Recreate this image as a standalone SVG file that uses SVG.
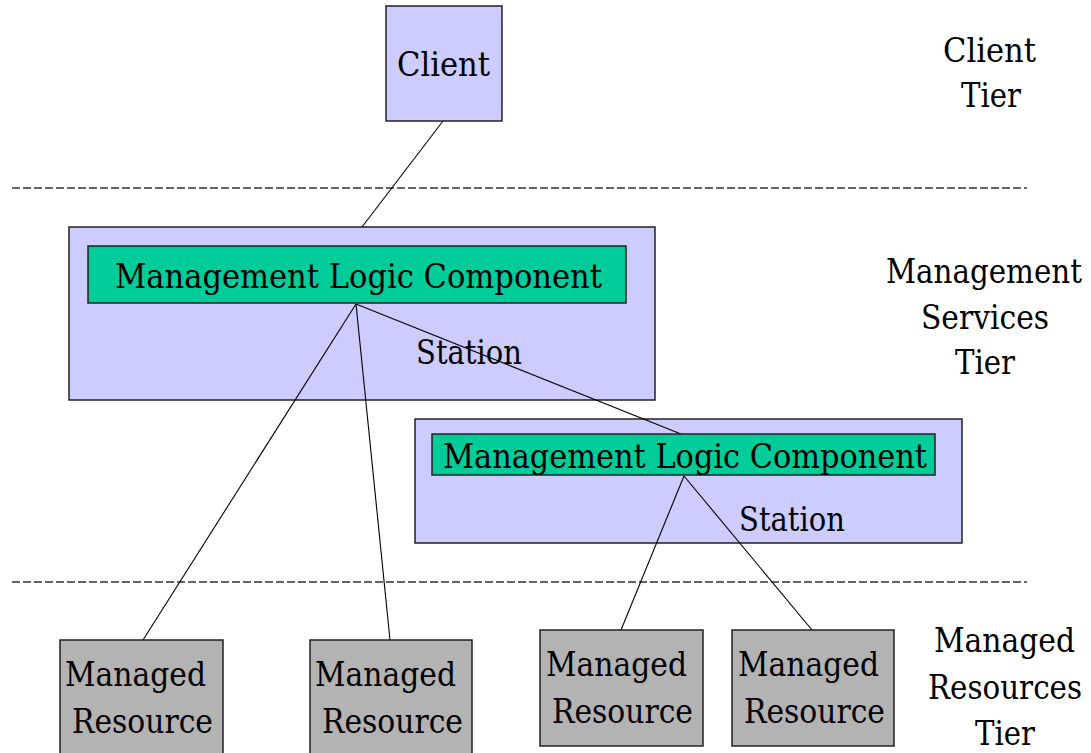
<svg xmlns="http://www.w3.org/2000/svg" width="1091" height="753" viewBox="0 0 1091 753">
  <style>
    text { font-family: 'DejaVu Serif', 'Liberation Serif', serif; font-size: 34px; fill: #000; }
    .tier { text-anchor: end; }
    .station { fill: #CCCCFF; stroke: #222; stroke-width: 1.5; }
    .logic { fill: #00CC99; stroke: #222; stroke-width: 1.5; }
    .client { fill: #CCCCFF; stroke: #222; stroke-width: 1.5; }
    .resource { fill: #B3B3B3; stroke: #222; stroke-width: 1.5; }
    .link { stroke: #000; stroke-width: 1.1; fill: none; }
    .divider { stroke: #333; stroke-width: 1.3; stroke-dasharray: 8 3; fill: none; }
  </style>

  <rect width="1091" height="753" fill="#fff"/>

  <!-- tier dividers -->
  <g id="dividers">
    <line class="divider" x1="12" y1="188" x2="1027" y2="188"/>
    <line class="divider" x1="12" y1="582" x2="1027" y2="582"/>
  </g>

  <!-- tier labels, right-aligned so they stay inside the frame -->
  <g id="tier-labels">
    <text class="tier" x="1036" y="62" textLength="93" lengthAdjust="spacingAndGlyphs">Client</text>
    <text class="tier" x="1021" y="107" textLength="60" lengthAdjust="spacingAndGlyphs">Tier</text>
    <text class="tier" x="1082" y="283" textLength="196" lengthAdjust="spacingAndGlyphs">Management</text>
    <text class="tier" x="1049" y="329" textLength="128" lengthAdjust="spacingAndGlyphs">Services</text>
    <text class="tier" x="1015" y="374" textLength="60" lengthAdjust="spacingAndGlyphs">Tier</text>
    <text class="tier" x="1075" y="652" textLength="141" lengthAdjust="spacingAndGlyphs">Managed</text>
    <text class="tier" x="1082" y="699" textLength="154" lengthAdjust="spacingAndGlyphs">Resources</text>
    <text class="tier" x="1035" y="745" textLength="60" lengthAdjust="spacingAndGlyphs">Tier</text>
  </g>

  <!-- station backgrounds -->
  <g id="station-1">
    <rect class="station" x="69" y="227" width="586" height="173"/>
    <text x="416" y="364" textLength="106" lengthAdjust="spacingAndGlyphs">Station</text>
  </g>
  <g id="station-2">
    <rect class="station" x="415" y="419" width="547" height="124"/>
    <text x="739" y="531" textLength="106" lengthAdjust="spacingAndGlyphs">Station</text>
  </g>

  <!-- connectors -->
  <g id="connectors">
    <line class="link" x1="443" y1="121" x2="362" y2="227"/>
    <line class="link" x1="356" y1="304" x2="143" y2="640"/>
    <line class="link" x1="356" y1="304" x2="390" y2="640"/>
    <line class="link" x1="356" y1="304" x2="681" y2="434"/>
    <line class="link" x1="684" y1="476" x2="621" y2="630"/>
    <line class="link" x1="684" y1="476" x2="812" y2="630"/>
  </g>

  <g id="client">
    <rect class="client" x="386" y="6" width="116" height="115"/>
    <text x="397" y="76" textLength="93" lengthAdjust="spacingAndGlyphs">Client</text>
  </g>

  <g id="logic-1">
    <rect class="logic" x="88" y="246" width="538" height="57"/>
    <text x="115" y="288" textLength="487" lengthAdjust="spacingAndGlyphs">Management Logic Component</text>
  </g>

  <g id="logic-2">
    <rect class="logic" x="432" y="434" width="503" height="41"/>
    <text x="443" y="468" textLength="484" lengthAdjust="spacingAndGlyphs">Management Logic Component</text>
  </g>

  <g id="resource-1">
    <rect class="resource" x="60" y="640" width="163" height="125"/>
    <text x="65" y="686" textLength="141" lengthAdjust="spacingAndGlyphs">Managed</text>
    <text x="72" y="733" textLength="141" lengthAdjust="spacingAndGlyphs">Resource</text>
  </g>
  <g id="resource-2">
    <rect class="resource" x="310" y="640" width="162" height="125"/>
    <text x="315" y="686" textLength="141" lengthAdjust="spacingAndGlyphs">Managed</text>
    <text x="322" y="733" textLength="141" lengthAdjust="spacingAndGlyphs">Resource</text>
  </g>
  <g id="resource-3">
    <rect class="resource" x="540" y="630" width="163" height="116"/>
    <text x="546" y="676" textLength="141" lengthAdjust="spacingAndGlyphs">Managed</text>
    <text x="552" y="723" textLength="141" lengthAdjust="spacingAndGlyphs">Resource</text>
  </g>
  <g id="resource-4">
    <rect class="resource" x="732" y="630" width="162" height="116"/>
    <text x="738" y="676" textLength="141" lengthAdjust="spacingAndGlyphs">Managed</text>
    <text x="744" y="723" textLength="141" lengthAdjust="spacingAndGlyphs">Resource</text>
  </g>
</svg>
